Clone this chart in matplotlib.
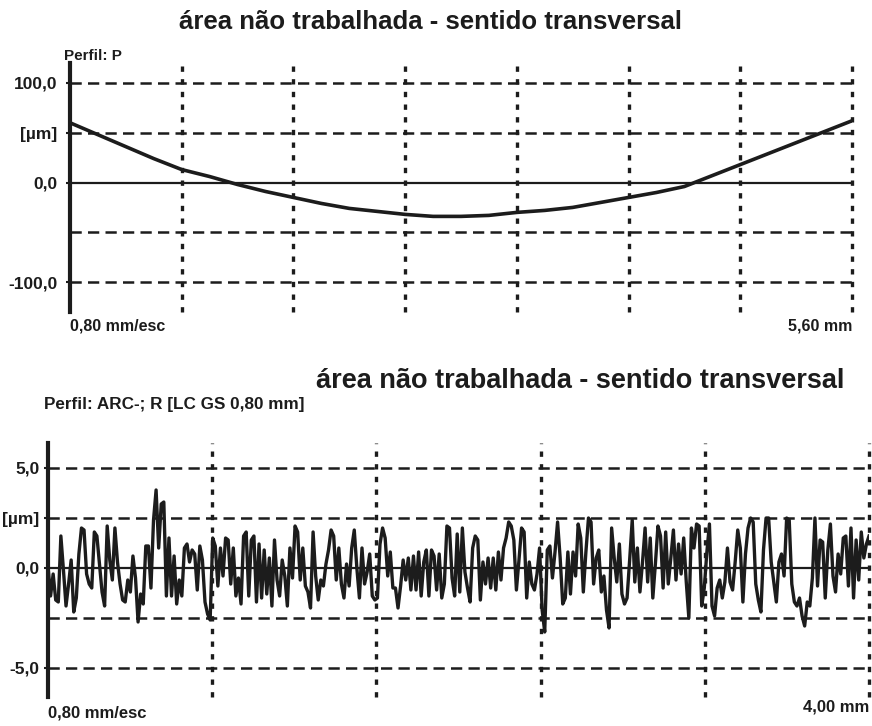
import numpy as np
import matplotlib
matplotlib.use("Agg")
import matplotlib.pyplot as plt

plt.rcParams["font.family"] = ["Liberation Sans", "DejaVu Sans"]

W, H = 872, 726
TITLE = "área não trabalhada - sentido transversal"

# primary profile P (mm, µm)
p_x = [0, 0.2, 0.4, 0.6, 0.8, 1.0, 1.2, 1.4, 1.6, 1.8, 2.0, 2.2, 2.4, 2.6, 2.8,
       3.0, 3.2, 3.4, 3.6, 3.8, 4.0, 4.2, 4.4, 4.6, 4.8, 5.0, 5.2, 5.4, 5.6]
p_z = [60, 48, 36, 24, 13, 6, -2, -9, -15, -21, -26, -29, -32, -34, -34,
       -33, -30, -28, -25, -20, -15, -10, -4, 7, 18, 29, 40, 51, 62]
p_yticks = [100, 50, 0, -100]
p_ylabels = ["100,0", "[µm]", "0,0", "-100,0"]

# roughness profile R, sampled evenly over 0..4 mm (µm)
r_z = [
    0.1, -1.4, -0.3, -1.6, -1.7, 1.6, -0.1, -1.9, -0.8, 0.4,
    -2.2, -1.5, 0.7, 2.0, 1.9, -0.3, -0.8, -1.0, 1.8, 1.6,
    0.2, -1.2, -1.9, 2.1, 0.4, -0.6, 2.0, 0.3, -0.8, -1.6,
    -1.7, -0.6, -1.2, 0.6, -0.5, -2.7, -1.3, -1.8, 1.1, 1.1,
    -1.0, 2.4, 3.9, 1.0, 3.2, 3.3, -1.4, 1.5, -1.4, 0.6,
    -1.8, -0.6, -1.4, 1.0, 1.2, 0.3, 0.9, 0.7, -1.1, 1.1,
    0.4, -1.7, -2.3, -2.6, 1.5, 1.1, -0.9, 1.0, -0.4, 1.5,
    1.4, -0.8, 1.0, -1.4, -0.5, -1.8, 1.6, 1.8, -1.4, 1.4,
    1.6, -1.7, 1.2, -1.5, 0.9, -1.3, 0.5, -1.9, 1.4, -0.6,
    -1.4, 0.4, -0.4, -1.9, 1.0, -0.5, 2.1, 1.8, -0.6, 1.0,
    -0.9, -1.2, -2.0, 1.8, -0.4, -1.6, -0.6, -0.9, 0.2, 0.9,
    1.9, 1.6, -0.6, 1.0, -0.8, -1.5, 0.2, -0.9, 1.0, 1.9,
    0.0, -1.5, 1.0, -0.8, -0.2, 0.7, -1.4, -1.6, -1.5, 1.2,
    2.0, 1.5, -0.4, 0.8, -1.0, -1.0, -2.0, -0.9, 0.4, -0.6,
    0.5, -1.1, 0.6, -1.1, 0.8, -1.4, 0.3, 0.9, -1.4, 0.9,
    0.6, -1.1, 0.7, -1.5, -0.8, 2.1, 2.0, -0.5, -1.4, 1.7,
    -1.2, 2.0, -0.2, -1.0, -1.7, 1.0, 1.6, 1.4, -1.6, 0.3,
    -0.8, 0.5, -1.0, 0.5, -1.1, 0.8, -0.6, 1.0, 1.5, 2.3,
    2.1, 1.4, -1.1, 0.4, 2.0, 1.8, -1.5, 0.3, -0.8, -1.1,
    -0.3, 1.0, -2.1, -3.2, 0.9, 1.1, -0.5, 0.8, 2.3, 0.5,
    -1.8, -1.5, 0.8, -1.3, 0.8, -0.4, 2.2, 1.5, -1.2, 0.8,
    2.5, 2.3, -0.8, 0.5, 0.9, -1.2, -0.4, -2.1, -3.0, 2.0,
    0.5, -0.7, 1.2, -1.3, -1.8, -1.5, 0.4, 2.4, -0.7, 1.0,
    -1.2, 0.3, 2.0, -0.7, 1.5, -1.5, 0.2, 2.1, 1.6, -1.0,
    1.8, -0.8, 0.5, 1.9, -0.6, 1.2, -0.3, 1.5, -0.7, -2.5,
    2.0, 1.0, 2.2, 2.1, -1.9, -1.0, 0.8, 2.2, -1.9, -2.4,
    -1.0, -0.6, -1.5, -0.7, 1.0, -0.7, -1.1, 0.3, 1.9, 1.0,
    -1.7, 0.7, 2.0, 2.5, 2.3, -0.8, -1.6, -2.2, 0.9, 2.5,
    2.5, 0.3, -0.7, -1.7, 0.3, 0.7, -0.4, 2.5, 2.4, -0.8,
    -1.7, -1.9, -1.5, -2.4, -2.9, -1.7, -1.9, -0.5, 2.5, -0.9,
    1.4, 1.3, -1.5, 0.9, 2.2, -0.4, -1.2, 0.7, -0.3, 1.5,
    1.6, -0.9, 2.0, -1.5, 1.4, -0.6, 1.8, 0.5, 1.2, 1.6,
]
r_yticks = [5, 2.5, 0, -5]
r_ylabels = ["5,0", "[µm]", "0,0", "-5,0"]

INK = "#1c1c1c"


def fx(px):
    return px / W


def fy(py):
    return 1 - py / H


def profile_axes(fig, box, xmax, ylim, yticks, ylabels, hgrid, pad):
    l, t, r, b = box
    ax = fig.add_axes([fx(l), fy(b), fx(r - l), (b - t) / H])
    ax.set_xlim(0, xmax)
    ax.set_ylim(*ylim)
    for s in ("top", "right", "bottom"):
        ax.spines[s].set_visible(False)
    ax.spines["left"].set_linewidth(3)
    ax.spines["left"].set_color(INK)
    ax.set_xticks([])
    ax.set_yticks(yticks)
    ax.set_yticklabels(ylabels, fontsize=12.5, fontweight="bold", color=INK)
    ax.tick_params(axis="y", length=3, width=1.5, color=INK, pad=pad)
    for v in hgrid:
        ax.axhline(v, color=INK, lw=1.8, ls=(0, (4.5, 2.5)), zorder=1)
    for v in np.arange(0.8, xmax + 0.01, 0.8):
        ax.axvline(v, color=INK, lw=2.4, ls=(0, (1.6, 2.2)), zorder=1, clip_on=False)
    ax.axhline(0, color=INK, lw=1.6, zorder=2)
    return ax


fig = plt.figure(figsize=(W / 100, H / 100), dpi=100)

# top: primary profile
ax1 = profile_axes(fig, (70, 63, 852, 312), 5.6, (-130, 120), p_yticks, p_ylabels,
                   [100, 50, -50, -100], pad=6)
ax1.plot(p_x, p_z, color=INK, lw=2.6, zorder=3)
fig.text(fx(430), fy(22), TITLE, ha="center", va="center", fontsize=18.5,
         fontweight="bold", color=INK)
fig.text(fx(64), fy(56), "Perfil: P", ha="left", va="center", fontsize=11,
         fontweight="bold", color=INK)
fig.text(fx(70), fy(326), "0,80 mm/esc", ha="left", va="center", fontsize=11.5,
         fontweight="bold", color=INK)
fig.text(fx(852), fy(326), "5,60 mm", ha="right", va="center", fontsize=11.5,
         fontweight="bold", color=INK)

# bottom: roughness profile
r_x = np.linspace(0, 4.0, len(r_z))
ax2 = profile_axes(fig, (48, 443, 869, 697), 4.0, (-6.45, 6.25), r_yticks, r_ylabels,
                   [5, 2.5, -2.5, -5], pad=3)
ax2.plot(r_x, r_z, color=INK, lw=2.4, zorder=3)
fig.text(fx(580), fy(381), TITLE, ha="center", va="center", fontsize=19.5,
         fontweight="bold", color=INK)
fig.text(fx(44), fy(405), "Perfil: ARC-; R [LC GS 0,80 mm]", ha="left", va="center",
         fontsize=12.3, fontweight="bold", color=INK)
fig.text(fx(48), fy(713), "0,80 mm/esc", ha="left", va="center", fontsize=12,
         fontweight="bold", color=INK)
fig.text(fx(869), fy(707), "4,00 mm", ha="right", va="center", fontsize=12,
         fontweight="bold", color=INK)

fig.savefig("out.png", dpi=100)
